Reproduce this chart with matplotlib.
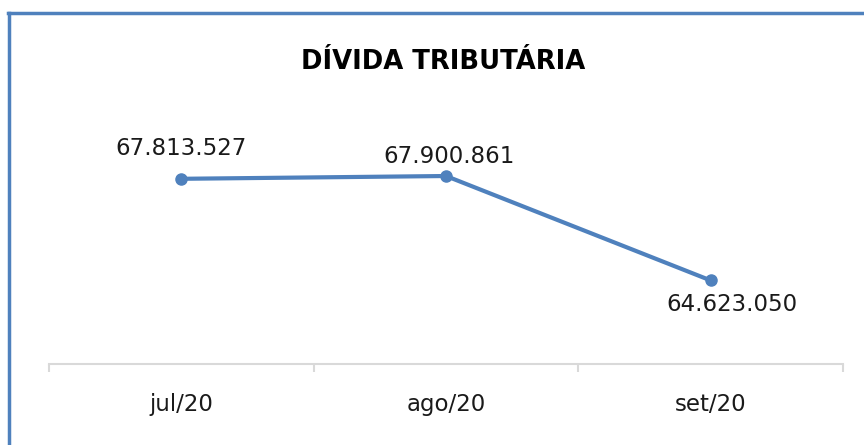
import matplotlib
matplotlib.use("Agg")
import matplotlib.pyplot as plt
from matplotlib.lines import Line2D

# Données
meses = ["jul/20", "ago/20", "set/20"]
valores = [67813527, 67900861, 64623050]
rotulos = ["67.813.527", "67.900.861", "64.623.050"]

azul = "#4F81BD"
plt.rcParams["font.family"] = ["DejaVu Sans"]

fig = plt.figure(figsize=(8.64, 4.45), dpi=100)
ax = fig.add_axes([49 / 864, 81 / 445, 794 / 864, 223 / 445])

x = range(len(meses))
ax.plot(x, valores, color=azul, linewidth=3, marker="o", markersize=8, solid_capstyle="round")

# Rótulos de dados (deslocamento em pontos)
desloc = [(0, 22), (2, 14), (15, -17)]
for i, (v, r) in enumerate(zip(valores, rotulos)):
    ax.annotate(r, (i, v), xytext=desloc[i], textcoords="offset points",
                ha="center", va="center", fontsize=16.5, color="#1a1a1a")

ax.set_xlim(-0.5, 2.5)
ax.set_ylim(62e6, 69e6)
ax.set_yticks([])
ax.set_xticks(x)
ax.set_xticklabels(meses, fontsize=16.5, color="#1a1a1a")
ax.tick_params(axis="x", length=0, pad=21)
# marcas entre categorias
ax.set_xticks([-0.5, 0.5, 1.5, 2.5], minor=True)
ax.tick_params(axis="x", which="minor", length=6, color="#D9D9D9", width=1.5)

for s in ["top", "right", "left"]:
    ax.spines[s].set_visible(False)
ax.spines["bottom"].set_color("#D9D9D9")
ax.spines["bottom"].set_linewidth(1.5)

fig.text(443 / 864, 1 - 62 / 445, "DÍVIDA TRIBUTÁRIA", ha="center", va="center",
         fontsize=18.6, fontweight="bold", color="#000000")

# moldura azul
fig.add_artist(Line2D([8 / 864, 1], [1 - 13 / 445] * 2, color=azul, linewidth=2.5,
                      transform=fig.transFigure))
fig.add_artist(Line2D([9 / 864] * 2, [0, 1 - 13 / 445], color=azul, linewidth=2.5,
                      transform=fig.transFigure))

fig.savefig("out.png", dpi=100)
